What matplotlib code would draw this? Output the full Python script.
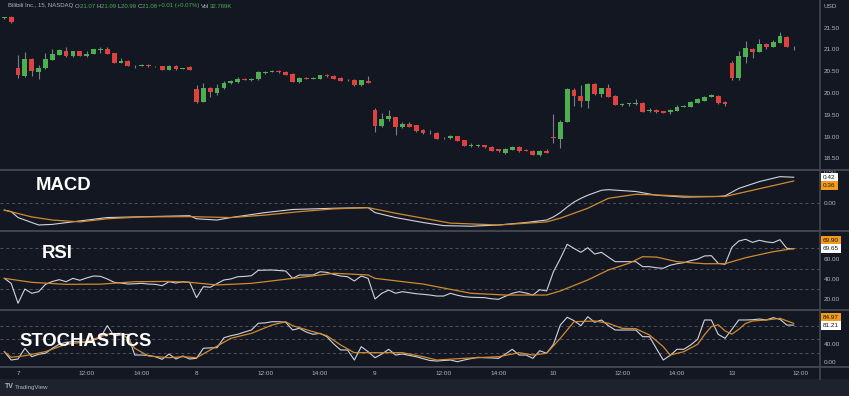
import numpy as np
import matplotlib
matplotlib.use('Agg')
import matplotlib.pyplot as plt
from matplotlib.lines import Line2D
from matplotlib.patches import Rectangle

# 15 minute bars: 2 bars of the 6th, then 7, 8, 9, 10 and the morning of 13
opens = [21.72, 21.74,
         20.57, 20.40, 20.78, 20.49, 20.57, 20.76, 20.88, 20.96, 20.84, 20.96, 20.84, 20.90, 20.99,
         21.00, 20.91, 20.70, 20.74, 20.61, 20.62, 20.65, 20.62, 20.61, 20.53, 20.62, 20.56, 20.59,
         20.09, 19.80, 20.12, 20.01, 20.12, 20.22, 20.25, 20.33, 20.30, 20.32, 20.47, 20.49, 20.51,
         20.49, 20.43, 20.26, 20.35, 20.33, 20.33, 20.42, 20.40, 20.35, 20.29, 20.31, 20.18, 20.28,
         19.61, 19.25, 19.41, 19.45, 19.23, 19.30, 19.26, 19.15, 19.09, 19.09, 18.96, 18.96, 19.01,
         18.92, 18.79, 18.79, 18.80, 18.77, 18.71, 18.63, 18.70, 18.77, 18.70, 18.68, 18.57, 18.68,
         18.99, 18.95, 19.34, 20.07, 19.94, 19.82, 20.21, 19.98, 20.11, 19.93, 19.73, 19.75, 19.75,
         19.78, 19.58, 19.61, 19.58, 19.56, 19.60, 19.69, 19.69, 19.78, 19.83, 19.92, 19.94, 19.79,
         20.70, 20.35, 20.83, 21.01, 20.95, 21.13, 21.06, 21.16, 21.29, 21.07]
highs = [21.75, 21.77,
         20.87, 20.95, 20.80, 20.64, 20.93, 21.00, 21.00, 21.06, 20.97, 20.97, 20.96, 21.01, 21.06,
         21.06, 20.92, 20.80, 20.76, 20.65, 20.66, 20.66, 20.63, 20.62, 20.65, 20.65, 20.58, 20.61,
         20.19, 20.23, 20.14, 20.20, 20.27, 20.29, 20.36, 20.34, 20.34, 20.50, 20.50, 20.52, 20.52,
         20.50, 20.45, 20.37, 20.36, 20.36, 20.42, 20.43, 20.41, 20.36, 20.32, 20.32, 20.30, 20.39,
         19.65, 19.54, 19.61, 19.46, 19.34, 19.34, 19.27, 19.18, 19.15, 19.10, 18.99, 19.04, 19.02,
         18.93, 18.85, 18.83, 18.81, 18.78, 18.72, 18.73, 18.78, 18.78, 18.72, 18.69, 18.70, 18.71,
         19.52, 19.38, 20.11, 20.12, 20.18, 20.23, 20.24, 20.12, 20.21, 19.95, 19.78, 19.78, 19.86,
         19.80, 19.65, 19.63, 19.59, 19.63, 19.73, 19.73, 19.82, 19.88, 19.93, 19.98, 19.95, 19.81,
         20.74, 20.97, 21.20, 21.03, 21.24, 21.16, 21.22, 21.40, 21.30, 21.09]
lows = [21.71, 21.60,
        20.35, 20.38, 20.40, 20.32, 20.55, 20.75, 20.87, 20.83, 20.83, 20.85, 20.83, 20.89, 20.93,
        20.89, 20.69, 20.69, 20.61, 20.58, 20.61, 20.60, 20.60, 20.52, 20.52, 20.54, 20.55, 20.53,
        19.77, 19.79, 19.90, 19.96, 20.10, 20.21, 20.24, 20.29, 20.27, 20.31, 20.44, 20.48, 20.47,
        20.41, 20.25, 20.23, 20.32, 20.32, 20.32, 20.38, 20.32, 20.27, 20.28, 20.17, 20.17, 20.22,
        19.11, 19.23, 19.36, 19.04, 19.21, 19.22, 19.11, 19.07, 19.07, 18.94, 18.95, 18.95, 18.90,
        18.78, 18.76, 18.76, 18.75, 18.67, 18.65, 18.61, 18.69, 18.66, 18.67, 18.57, 18.56, 18.62,
        18.86, 18.74, 19.33, 19.70, 19.68, 19.66, 19.96, 19.90, 19.91, 19.72, 19.70, 19.70, 19.73,
        19.56, 19.57, 19.55, 19.54, 19.53, 19.59, 19.68, 19.68, 19.77, 19.82, 19.91, 19.74, 19.71,
        20.30, 20.31, 20.68, 20.80, 20.94, 21.00, 21.05, 21.15, 21.05, 20.99]
closes = [21.74, 21.62,
          20.42, 20.78, 20.51, 20.58, 20.78, 20.90, 20.98, 20.84, 20.96, 20.86, 20.90, 21.00, 21.00,
          20.90, 20.70, 20.74, 20.62, 20.63, 20.65, 20.61, 20.61, 20.53, 20.63, 20.55, 20.58, 20.54,
          19.80, 20.12, 20.03, 20.12, 20.24, 20.27, 20.32, 20.30, 20.33, 20.48, 20.49, 20.50, 20.48,
          20.42, 20.26, 20.35, 20.33, 20.35, 20.41, 20.39, 20.33, 20.28, 20.31, 20.18, 20.29, 20.23,
          19.25, 19.41, 19.48, 19.23, 19.30, 19.23, 19.12, 19.08, 19.08, 18.95, 18.98, 19.02, 18.91,
          18.79, 18.80, 18.80, 18.76, 18.68, 18.67, 18.72, 18.77, 18.67, 18.68, 18.58, 18.67, 18.63,
          18.97, 19.34, 20.09, 19.93, 19.82, 20.21, 19.98, 20.11, 19.92, 19.73, 19.75, 19.76, 19.77,
          19.57, 19.61, 19.57, 19.55, 19.62, 19.69, 19.71, 19.80, 19.86, 19.92, 19.95, 19.77, 19.75,
          20.35, 20.84, 21.03, 20.94, 21.13, 21.05, 21.18, 21.30, 21.06, 21.08]

# MACD (white) and signal (orange), read at bar indices
macd_idx = [0, 1, 2, 5, 7, 11, 15, 21, 27, 28, 31, 33, 38, 42, 48, 53, 54, 57, 61, 64,
            68, 72, 76, 79, 80, 81, 82, 83, 84, 85, 87, 88, 92, 95, 99, 104, 105, 107, 110, 113, 115]
macd_val = [-0.11, -0.135, -0.23, -0.35, -0.34, -0.285, -0.23, -0.215, -0.20, -0.25,
            -0.27, -0.23, -0.15, -0.10, -0.08, -0.07, -0.15, -0.23, -0.31, -0.36,
            -0.37, -0.35, -0.31, -0.27, -0.22, -0.15, -0.06, 0.02, 0.08, 0.13,
            0.21, 0.22, 0.19, 0.13, 0.10, 0.11, 0.12, 0.24, 0.35, 0.43, 0.42]
sig_idx = [0, 4, 7, 11, 15, 20, 27, 33, 38, 43, 48, 53, 57, 61, 65, 72, 79, 81, 83, 85,
           88, 92, 96, 100, 105, 109, 115]
sig_val = [-0.11, -0.22, -0.27, -0.30, -0.25, -0.22, -0.215, -0.23, -0.19, -0.135,
           -0.09, -0.07, -0.16, -0.24, -0.32, -0.35, -0.30, -0.24, -0.16, -0.08,
           0.08, 0.145, 0.13, 0.11, 0.11, 0.21, 0.36]

# RSI per bar and its moving average
rsi = [40.6, 35.7, 16.1, 30.1, 25.9, 27.5, 34.7, 37.5, 39.3, 37.3,
       40.6, 38.7, 41.0, 42.9, 42.6, 40.0, 36.7, 36.0, 35.0, 35.3,
       35.7, 35.0, 34.7, 33.4, 37.3, 36.0, 37.3, 36.7, 21.6, 32.4,
       31.8, 35.5, 39.0, 40.0, 42.2, 42.5, 43.2, 48.5, 48.7, 48.8,
       48.3, 47.8, 40.6, 43.9, 43.9, 43.9, 47.1, 46.5, 44.5, 42.9,
       42.2, 38.0, 42.9, 40.6, 20.3, 25.9, 29.1, 25.9, 27.5, 26.5,
       25.5, 24.9, 24.2, 23.2, 23.2, 25.9, 24.0, 22.6, 22.0, 21.8,
       21.6, 20.5, 20.0, 23.0, 25.9, 27.5, 26.2, 24.2, 29.4, 28.2,
       47.1, 60.0, 74.1, 70.0, 66.2, 70.7, 64.5, 66.2, 61.5, 57.0,
       57.0, 57.0, 57.0, 52.1, 52.1, 51.0, 50.5, 53.5, 55.0, 56.0,
       58.0, 59.5, 62.6, 62.9, 55.4, 54.4, 71.1, 77.3, 79.0, 76.0,
       78.0, 76.5, 75.7, 78.6, 70.1, 69.65]
rsima_idx = [0, 4, 9, 14, 19, 24, 27, 31, 36, 41, 46, 48, 53, 54, 61, 68, 73, 79, 81, 85,
             88, 91, 93, 95, 98, 102, 105, 108, 112, 115]
rsima_val = [40.6, 36.7, 34.7, 34.9, 37.3, 37.6, 36.7, 34.1, 35.7, 39.7,
             43.9, 45.6, 43.9, 40.6, 35.0, 25.9, 24.2, 24.2, 28.2, 39.0,
             48.8, 55.4, 61.9, 61.5, 57.0, 55.0, 55.0, 60.9, 66.8, 69.9]

# Stochastics %K per bar and %D
stoch_k = [23.2, 5.0, 7.2, 30.6, 12.2, 17.5, 19.7, 30.6, 39.3, 43.7,
           45.0, 44.5, 43.7, 48.7, 53.7, 80.0, 57.4, 60.0, 61.1, 15.9,
           15.9, 15.0, 12.2, 6.5, 18.1, 7.2, 13.8, 7.2, 8.7, 30.6,
           31.5, 31.9, 53.7, 58.1, 61.1, 66.0, 70.5, 85.2, 86.0, 88.6,
           88.6, 87.3, 70.5, 74.2, 66.0, 61.1, 63.3, 55.9, 40.0, 26.9,
           26.9, 5.0, 34.1, 23.2, 10.0, 18.0, 28.4, 15.9, 18.1, 15.0,
           12.2, 8.0, 4.0, 2.8, 4.0, 5.0, 1.3, 5.0, 8.0, 10.9,
           10.0, 9.5, 8.7, 18.0, 28.4, 15.9, 15.9, 8.7, 25.3, 19.7,
           39.3, 81.4, 98.3, 90.8, 80.0, 99.6, 87.3, 92.4, 80.0, 70.5,
           70.5, 70.5, 70.5, 55.9, 55.9, 30.0, 5.0, 15.0, 28.4, 28.4,
           38.0, 50.2, 92.4, 92.4, 61.1, 52.4, 72.0, 92.4, 92.4, 93.0,
           94.5, 92.4, 97.4, 93.9, 81.4, 81.21]
stoch_d_idx = [0, 1, 3, 6, 8, 9, 12, 14, 15, 17, 18, 19, 21, 24, 26, 28, 30, 33, 36, 39,
               41, 42, 45, 47, 49, 51, 53, 58, 61, 63, 67, 72, 75, 77, 79, 81, 83, 86, 88, 90,
               92, 94, 96, 97, 99, 101, 102, 103, 104, 105, 106, 107, 108, 109, 111, 113, 115]
stoch_d_val = [23.2, 10.9, 14.4, 23.2, 34.1, 39.3, 45.0, 55.9, 61.1, 63.3,
               52.4, 30.6, 13.8, 10.0, 12.2, 10.0, 26.9, 52.4, 63.3, 81.4,
               88.6, 80.0, 66.8, 58.1, 37.8, 21.0, 21.0, 21.0, 12.2, 5.0,
               8.7, 12.2, 21.0, 15.9, 19.7, 52.4, 88.6, 90.2, 85.2, 74.2,
               73.4, 59.6, 34.1, 15.9, 23.2, 39.3, 60.0, 78.0, 82.0, 68.6,
               61.5, 72.0, 85.0, 90.2, 92.4, 96.0, 84.97]

time_tick_idx = [2, 12, 20, 28, 38, 46, 54, 64, 72, 80, 90, 98, 106, 116]
time_tick_lab = ['7', '12:00', '14:00', '8', '12:00', '14:00', '9', '12:00', '14:00',
                 '10', '12:00', '14:00', '13', '12:00']

BG = '#131722'
GRID = '#434651'
TXT = '#b2b5be'
UP = '#4caf50'
DOWN = '#e0413f'
WICK = '#7b7e88'
LINE_W = '#d1d4dc'
LINE_O = '#d08a2e'
W, H = 849, 396


def fy(px):
    return 1 - px / H


fig = plt.figure(figsize=(W / 100, H / 100), dpi=100, facecolor=BG)
plt.rcParams['font.family'] = ['Liberation Sans', 'DejaVu Sans']

right = 819.5
xlim = (-0.627, 118.76)
panels = [(0, 170), (170, 231), (231, 310), (310, 367)]
axes = []
for top, bot in panels:
    ax = fig.add_axes([0, fy(bot), right / W, (bot - top) / H])
    ax.set_facecolor(BG)
    ax.set_xlim(*xlim)
    for s in ax.spines.values():
        s.set_visible(False)
    ax.yaxis.tick_right()
    ax.tick_params(axis='y', length=0, pad=3, labelsize=4.6, labelcolor=TXT)
    ax.tick_params(axis='x', length=0, labelbottom=False)
    axes.append(ax)
ax_p, ax_m, ax_r, ax_s = axes

# candles
idx = np.arange(len(opens))
o = np.array(opens)
c = np.array(closes)
cols = [UP if cc >= oo else DOWN for oo, cc in zip(o, c)]
ax_p.vlines(idx, lows, highs, color=WICK, lw=0.8, zorder=1)
body = np.maximum(np.abs(c - o), 0.012)
ax_p.bar(idx, body, bottom=np.minimum(o, c), width=0.7, color=cols, linewidth=0, zorder=2)
ax_p.set_ylim(18.236, 22.135)
pt = [18.5, 19.0, 19.5, 20.0, 20.5, 21.0, 21.5]
ax_p.set_yticks(pt)
ax_p.set_yticklabels(['%.2f' % v for v in pt])

dash = dict(color='#50535e', lw=0.7, ls=(0, (3, 3)), zorder=0)

# MACD
ax_m.set_ylim(-0.447, 0.537)
ax_m.axhline(0, **dash)
ax_m.plot(macd_idx, macd_val, color=LINE_W, lw=0.8)
ax_m.plot(sig_idx, sig_val, color=LINE_O, lw=0.9)
ax_m.set_yticks([0, 0.5])
ax_m.set_yticklabels(['0.00', '0.50'])

# RSI
ax_r.set_ylim(9.48, 87.16)
for v in [30, 50, 70]:
    ax_r.axhline(v, **dash)
ax_r.plot(idx, rsi, color=LINE_W, lw=0.8)
ax_r.plot(rsima_idx, rsima_val, color=LINE_O, lw=0.9)
ax_r.set_yticks([20, 40, 60])
ax_r.set_yticklabels(['20.00', '40.00', '60.00'])

# Stochastics
ax_s.set_ylim(-10.26, 114.2)
for v in [20, 50, 80]:
    ax_s.axhline(v, **dash)
ax_s.plot(idx, stoch_k, color=LINE_W, lw=0.8)
ax_s.plot(stoch_d_idx, stoch_d_val, color=LINE_O, lw=0.9)
ax_s.set_yticks([0, 40])
ax_s.set_yticklabels(['0.00', '40.00'])
ax_s.set_xticks(time_tick_idx)
ax_s.set_xticklabels(time_tick_lab)
ax_s.tick_params(axis='x', labelbottom=True, labelsize=4.6, labelcolor=TXT, pad=3)


def value_box(ax, val, fc, dy):
    ax.annotate('%.2f' % val, xy=(1, val), xycoords=ax.get_yaxis_transform(),
                xytext=(2.6, dy), textcoords='offset points', ha='left', va='center',
                fontsize=4.6, color=BG, zorder=10, annotation_clip=False,
                bbox=dict(boxstyle='square,pad=0.3', fc=fc, ec='none'))


value_box(ax_m, macd_val[-1], 'white', 0)
value_box(ax_m, sig_val[-1], '#f59b1c', -3.4)
value_box(ax_r, rsima_val[-1], '#f59b1c', 5.6)
value_box(ax_r, rsi[-1], 'white', 0)
value_box(ax_s, stoch_d_val[-1], '#f59b1c', 4.4)
value_box(ax_s, stoch_k[-1], 'white', 0)

# pane separators and price scale border
for y in [170, 231, 310, 367]:
    fig.add_artist(Line2D([0, 1], [fy(y), fy(y)], color=GRID, lw=1.4))
fig.add_artist(Line2D([right / W, right / W], [fy(0), fy(379)], color=GRID, lw=1.2))
fig.add_artist(Rectangle((0, 0), 1, 17 / H, transform=fig.transFigure, fc='#1e222d', ec='none'))

fig.text(823 / W, fy(6), 'USD', color=TXT, fontsize=4.6, va='center', ha='left')

# panel titles
big = dict(color='white', fontsize=13.3, fontweight='bold', ha='center', va='center', zorder=20)
fig.text(64 / W, fy(186), 'MACD', **big)
fig.text(57 / W, fy(253), 'RSI', **big)
fig.text(85.5 / W, fy(342), 'STOCHASTICS', **big)

# legend line at the top
segments = [('Bilibili Inc., 15, NASDAQ ', TXT), ('O', TXT), ('21.07 ', UP), ('H', TXT),
            ('21.09 ', UP), ('L', TXT), ('20.99 ', UP), ('C', TXT), ('21.08 ', UP),
            ('+0.01 (+0.07%) ', UP), ('Vol', TXT), ('32.769K', UP)]
r = fig.canvas.get_renderer()
x = 8 / W
for s, col in segments:
    t = fig.text(x, fy(6), s, color=col, fontsize=4.3, va='center', ha='left')
    x += t.get_window_extent(r).width / W

fig.text(5 / W, fy(387), 'TV', color=TXT, fontsize=5, fontweight='bold', va='center')
fig.text(15 / W, fy(387), 'TradingView', color=TXT, fontsize=4.4, va='center')

fig.savefig('out.png', dpi=100, facecolor=BG)
